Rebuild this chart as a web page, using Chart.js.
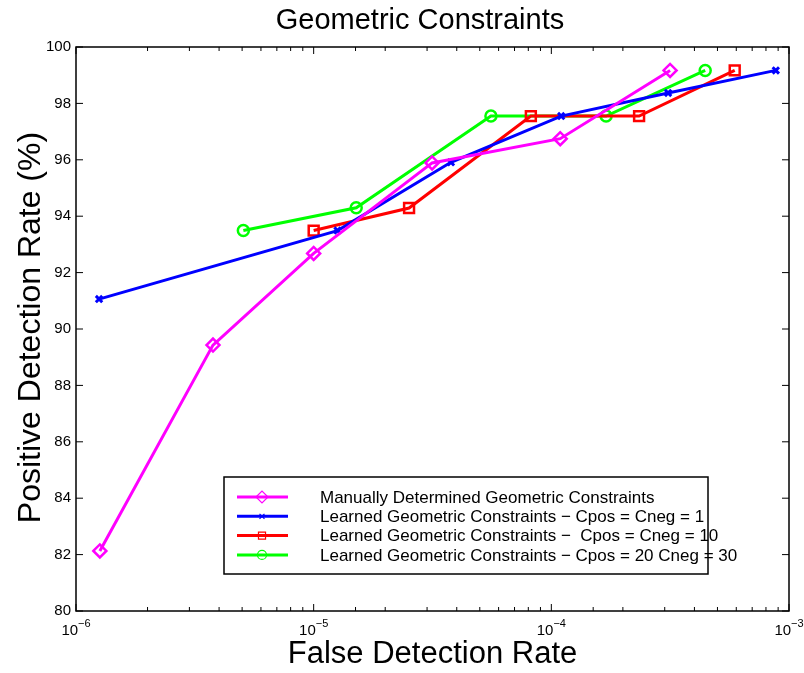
<!DOCTYPE html>
<html>
<head>
<meta charset="utf-8">
<script src="https://cdn.jsdelivr.net/npm/chart.js@4.4.0/dist/chart.umd.min.js"></script>
<style>
  html, body { margin: 0; padding: 0; background: #fff; }
  #wrap { width: 804px; height: 673px; }
</style>
</head>
<body>
<div id="wrap"><canvas id="roc"></canvas></div>
<script>
// values
const manualX = [1.26e-6, 3.77e-6, 1.0e-5, 3.15e-5, 1.09e-4, 3.16e-4];
const manualY = [82.13, 89.43, 92.68, 95.89, 96.75, 99.17];

const cpos1X = [1.25e-6, 1.26e-5, 3.78e-5, 1.10e-4, 3.10e-4, 8.8e-4];
const cpos1Y = [91.06, 93.49, 95.91, 97.55, 98.37, 99.17];

const cpos10X = [1.0e-5, 2.52e-5, 8.2e-5, 2.34e-4, 5.91e-4];
const cpos10Y = [93.49, 94.29, 97.55, 97.55, 99.17];

const cpos20X = [5.06e-6, 1.51e-5, 5.57e-5, 1.70e-4, 4.44e-4];
const cpos20Y = [93.49, 94.30, 97.55, 97.55, 99.17];

const seriesNames = [
  "Manually Determined Geometric Constraints",
  "Learned Geometric Constraints \u2212 Cpos = Cneg = 1",
  "Learned Geometric Constraints \u2212  Cpos = Cneg = 10",
  "Learned Geometric Constraints \u2212 Cpos = 20 Cneg = 30"
];
const xDecades = [-6, -5, -4, -3];

const FONT = "'Liberation Sans', Arial, Helvetica, sans-serif";

function pts(xs, ys) {
  return xs.map((x, i) => ({ x: x, y: ys[i] }));
}

function series(label, xs, ys, color, style, radius, bw) {
  return {
    label: label,
    data: pts(xs, ys),
    showLine: true,
    borderColor: color,
    backgroundColor: color,
    borderWidth: 3,
    tension: 0,
    pointStyle: style,
    pointRadius: radius,
    pointBorderWidth: bw,
    pointBorderColor: color,
    pointBackgroundColor: "rgba(0,0,0,0)",
  };
}

// box, inward ticks, decade labels, titles and legend
const decorPlugin = {
  id: "decor",
  afterDatasetsDraw(chart) {
    const ctx = chart.ctx;
    const a = chart.chartArea;
    const xs = chart.scales.x;
    const ys = chart.scales.y;
    ctx.save();

    // axes box
    ctx.strokeStyle = "#000";
    ctx.lineWidth = 1.5;
    ctx.strokeRect(a.left, a.top, a.right - a.left, a.bottom - a.top);

    // x ticks (top + bottom)
    ctx.lineWidth = 1;
    ctx.beginPath();
    xs.ticks.forEach((t) => {
      const lg = Math.log10(t.value);
      const major = Math.abs(lg - Math.round(lg)) < 1e-9;
      const len = major ? 7 : 4;
      const px = xs.getPixelForValue(t.value);
      if (px < a.left - 0.5 || px > a.right + 0.5) return;
      ctx.moveTo(px, a.bottom);
      ctx.lineTo(px, a.bottom - len);
      ctx.moveTo(px, a.top);
      ctx.lineTo(px, a.top + len);
    });
    // y ticks (left + right)
    ys.ticks.forEach((t) => {
      const py = ys.getPixelForValue(t.value);
      ctx.moveTo(a.left, py);
      ctx.lineTo(a.left + 7, py);
      ctx.moveTo(a.right, py);
      ctx.lineTo(a.right - 7, py);
    });
    ctx.stroke();

    // decade labels 10^n
    ctx.fillStyle = "#000";
    xDecades.forEach((n) => {
      const px = xs.getPixelForValue(Math.pow(10, n));
      ctx.font = "15px " + FONT;
      const w1 = ctx.measureText("10").width;
      ctx.font = "11px " + FONT;
      const exp = "\u2212" + Math.abs(n);
      const w2 = ctx.measureText(exp).width;
      const x0 = px - (w1 + w2) / 2;
      ctx.textAlign = "left";
      ctx.textBaseline = "alphabetic";
      ctx.font = "15px " + FONT;
      ctx.fillText("10", x0, a.bottom + 24);
      ctx.font = "11px " + FONT;
      ctx.fillText(exp, x0 + w1, a.bottom + 16);
    });

    // titles
    ctx.textAlign = "center";
    ctx.textBaseline = "alphabetic";
    ctx.font = "29px " + FONT;
    ctx.fillText("Geometric Constraints", 420, 29);
    ctx.font = "31px " + FONT;
    ctx.fillText("False Detection Rate", (a.left + a.right) / 2, 663);
    ctx.save();
    ctx.translate(40, 327.5);
    ctx.rotate(-Math.PI / 2);
    ctx.font = "32px " + FONT;
    ctx.fillText("Positive Detection Rate (%)", 0, 0);
    ctx.restore();

    // legend
    const lx = 224, ly = 477, lw = 484, lh = 97;
    ctx.fillStyle = "#fff";
    ctx.fillRect(lx, ly, lw, lh);
    ctx.strokeStyle = "#000";
    ctx.lineWidth = 1.5;
    ctx.strokeRect(lx, ly, lw, lh);
    const legendRadius = [6, 3.5, 5, 4.5];
    chart.data.datasets.forEach((ds, i) => {
      const cy = 497 + i * 19.3;
      ctx.strokeStyle = ds.borderColor;
      ctx.lineWidth = 3;
      ctx.beginPath();
      ctx.moveTo(237, cy);
      ctx.lineTo(288, cy);
      ctx.stroke();
      ctx.fillStyle = "rgba(0,0,0,0)";
      ctx.lineWidth = 1.2;
      Chart.helpers.drawPoint(ctx, {
        pointStyle: ds.pointStyle,
        radius: legendRadius[i],
        borderWidth: 1.2,
        rotation: 0,
      }, 262, cy);
      ctx.fillStyle = "#000";
      ctx.font = "17px " + FONT;
      ctx.textAlign = "left";
      ctx.textBaseline = "middle";
      ctx.fillText(seriesNames[i], 320, cy + 1);
    });

    ctx.restore();
  },
};

new Chart(document.getElementById("roc"), {
  type: "scatter",
  data: {
    datasets: [
      series(seriesNames[0], manualX, manualY, "#ff00ff", "rectRot", 6.5, 2.5),
      series(seriesNames[1], cpos1X, cpos1Y, "#0000ff", "crossRot", 4.5, 3),
      series(seriesNames[2], cpos10X, cpos10Y, "#ff0000", "rect", 7, 2.5),
      series(seriesNames[3], cpos20X, cpos20Y, "#00ff00", "circle", 5.5, 2.5),
    ],
  },
  options: {
    responsive: true,
    maintainAspectRatio: false,
    animation: false,
    layout: { padding: { top: 47, right: 15, left: 0, bottom: 0 } },
    plugins: {
      legend: { display: false },
      title: { display: false },
      tooltip: { enabled: false },
    },
    scales: {
      x: {
        type: "logarithmic",
        min: 1e-6,
        max: 1e-3,
        grid: { display: false, drawTicks: false },
        border: { display: false },
        ticks: { display: false, autoSkip: false },
        afterFit(scale) {
          scale.height = 62;
        },
      },
      y: {
        min: 80,
        max: 100,
        grid: { display: false, drawTicks: false },
        border: { display: false },
        ticks: {
          stepSize: 2,
          padding: 5,
          color: "#000",
          font: { family: FONT, size: 15 },
        },
        afterFit(scale) {
          scale.width = 76;
        },
      },
    },
  },
  plugins: [decorPlugin],
});
</script>
</body>
</html>
